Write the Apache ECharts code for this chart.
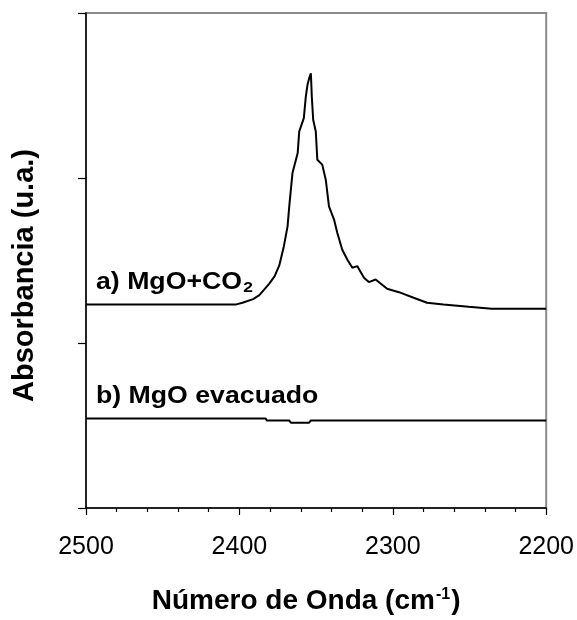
<!DOCTYPE html>
<html>
<head>
<meta charset="utf-8">
<script src="https://cdn.jsdelivr.net/npm/echarts@6/dist/echarts.min.js"></script>
<style>
  html, body { margin: 0; padding: 0; background: #fff; }
  #chart { width: 577px; height: 620px; }
</style>
</head>
<body>
<div id="chart"></div>
<script>
// IR spectra: CO2 adsorbed on MgO vs. evacuated MgO
const wavenumberA = [2500, 2402, 2398, 2391, 2387, 2384, 2380.5, 2377, 2374, 2371, 2368.6, 2367.5, 2365.4, 2362, 2361, 2358, 2356.7, 2355.6, 2354.5, 2353.4, 2352.8, 2351.9, 2350.2, 2349.2, 2346, 2343.7, 2341.6, 2338.3, 2336.2, 2333, 2329.7, 2326.4, 2323.2, 2318.8, 2315.6, 2311.2, 2303.7, 2296, 2286.4, 2277.7, 2267, 2250.6, 2235.5, 2200];
const absorbanceA = [1.234, 1.234, 1.244, 1.266, 1.290, 1.322, 1.360, 1.405, 1.470, 1.587, 1.707, 1.828, 2.030, 2.151, 2.282, 2.363, 2.494, 2.565, 2.605, 2.635, 2.494, 2.353, 2.282, 2.111, 2.081, 1.990, 1.828, 1.748, 1.668, 1.567, 1.506, 1.456, 1.466, 1.395, 1.369, 1.385, 1.329, 1.308, 1.274, 1.244, 1.234, 1.220, 1.208, 1.208];

const wavenumberB = [2500, 2383, 2382, 2367.5, 2366.5, 2354.5, 2353.5, 2338, 2337.6, 2337.2, 2200];
const absorbanceB = [0.543, 0.543, 0.530, 0.530, 0.517, 0.517, 0.530, 0.530, 0.520, 0.530, 0.530];

const xTicks = [2500, 2400, 2300, 2200];
const seriesLabels = ['a) MgO+CO{sub|2}', 'b) MgO evacuado'];

const pairs = (xs, ys) => xs.map((x, i) => [x, ys[i]]);
const FONT = '"Liberation Sans", Arial, Helvetica, sans-serif';

const chart = echarts.init(document.getElementById('chart'), null, { renderer: 'canvas' });

const labelStyle = (text) => ({
  text: text,
  font: 'bold 23px ' + FONT,
  fill: '#000',
  verticalAlign: 'middle',
  rich: {
    sub: { fontSize: 15, fontWeight: 'bold', fontFamily: FONT, verticalAlign: 'bottom', padding: [10, 0, 0, 1] }
  }
});

chart.setOption({
  animation: false,
  backgroundColor: '#fff',
  grid: {
    left: 86, right: 29, top: 13, bottom: 111,
    show: true, borderColor: '#8c8c8c', borderWidth: 2, backgroundColor: 'transparent'
  },
  xAxis: {
    type: 'value',
    min: 2200, max: 2500, interval: 100,
    inverse: true,
    name: 'Número de Onda (cm{sup|-1})',
    nameLocation: 'middle',
    nameGap: 79,
    nameTextStyle: {
      fontFamily: FONT, fontSize: 28, fontWeight: 'bold', color: '#000',
      padding: [0, 20, 0, 0],
      rich: { sup: { fontFamily: FONT, fontSize: 16, fontWeight: 'bold', verticalAlign: 'top', padding: [0, 1, 12, 1] } }
    },
    axisLine: { lineStyle: { color: '#000', width: 1.5 } },
    axisTick: { show: true, inside: false, length: 7, lineStyle: { color: '#000', width: 1.2 } },
    minorTick: { show: true, splitNumber: 5, length: 4, lineStyle: { color: '#000', width: 1.2 } },
    splitLine: { show: false },
    axisLabel: {
      fontFamily: FONT, fontSize: 25, color: '#000', margin: 27,
      customValues: xTicks,
      formatter: (v) => String(v)
    }
  },
  yAxis: {
    type: 'value',
    min: 0, max: 3, interval: 1,
    name: 'Absorbancia (u.a.)',
    nameLocation: 'middle',
    nameGap: 47,
    nameTextStyle: { fontFamily: FONT, fontSize: 29, fontWeight: 'bold', color: '#000', padding: [0, 30, 0, 0] },
    axisLine: { show: true, lineStyle: { color: '#000', width: 1.5 } },
    axisTick: { show: true, inside: false, length: 8, lineStyle: { color: '#000', width: 1.2 } },
    axisLabel: { show: false },
    splitLine: { show: false }
  },
  series: [
    {
      name: 'a', type: 'line', data: pairs(wavenumberA, absorbanceA),
      showSymbol: false, lineStyle: { color: '#000', width: 2 }, z: 3
    },
    {
      name: 'b', type: 'line', data: pairs(wavenumberB, absorbanceB),
      showSymbol: false, lineStyle: { color: '#000', width: 2 }, z: 3
    }
  ],
  graphic: [
    { type: 'text', left: 96, top: 271, scaleX: 1.16, style: labelStyle(seriesLabels[0]) },
    { type: 'text', left: 96, top: 385, scaleX: 1.16, style: labelStyle(seriesLabels[1]) }
  ]
});
</script>
</body>
</html>
